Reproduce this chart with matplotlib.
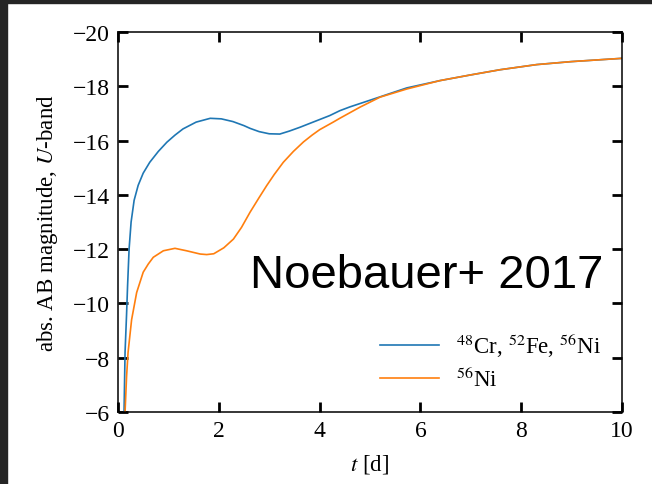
"""U-band light curves for two sets of radioactive isotopes."""

import matplotlib

matplotlib.use("Agg")
import matplotlib.pyplot as plt
from matplotlib.patches import Rectangle

# time since explosion [d] and absolute AB magnitude, U band
t_mixed = [0.12, 0.14, 0.17, 0.19, 0.22, 0.26, 0.32, 0.40, 0.50, 0.63, 0.80,
           0.97, 1.13, 1.29, 1.55, 1.83, 2.05, 2.28, 2.50, 2.62, 2.80, 3.00,
           3.21, 3.40, 3.61, 3.87, 4.20, 4.40, 4.60, 5.07, 5.73, 6.39, 7.00,
           7.58, 8.31, 9.00, 10.0]
mag_mixed = [-6.0, -8.2, -9.6, -10.65, -12.0, -13.0, -13.8, -14.35, -14.8,
             -15.2, -15.6, -15.94, -16.2, -16.43, -16.68, -16.82, -16.80,
             -16.70, -16.55, -16.45, -16.33, -16.25, -16.24, -16.35, -16.49,
             -16.68, -16.92, -17.10, -17.24, -17.53, -17.94, -18.21, -18.42,
             -18.61, -18.80, -18.91, -19.03]

t_ni = [0.14, 0.17, 0.20, 0.27, 0.37, 0.50, 0.60, 0.70, 0.90, 1.13, 1.36,
        1.63, 1.76, 1.90, 2.10, 2.29, 2.45, 2.62, 2.80, 2.95, 3.10, 3.28,
        3.48, 3.68, 3.85, 4.00, 4.27, 4.40, 4.80, 5.20, 5.73, 6.39, 7.00,
        7.58, 8.31, 9.00, 10.0]
mag_ni = [-6.0, -7.3, -8.2, -9.4, -10.4, -11.15, -11.45, -11.7, -11.94,
          -12.03, -11.94, -11.82, -11.80, -11.83, -12.05, -12.37, -12.8,
          -13.36, -13.9, -14.34, -14.75, -15.2, -15.6, -15.95, -16.2, -16.4,
          -16.68, -16.82, -17.23, -17.6, -17.9, -18.21, -18.42, -18.61,
          -18.80, -18.91, -19.03]

label_mixed = r"$^{48}$Cr, $^{52}$Fe, $^{56}$Ni"
label_ni = r"$^{56}$Ni"

x_ticks = [0, 2, 4, 6, 8, 10]
y_ticks = [-20, -18, -16, -14, -12, -10, -8, -6]

plt.rcParams["font.family"] = ["Liberation Serif", "DejaVu Serif"]
plt.rcParams["mathtext.fontset"] = "stix"

fig = plt.figure(figsize=(6.52, 4.85), dpi=100)
fig.patches.append(Rectangle((0, 0), 7 / 652, 1, transform=fig.transFigure,
                             color="#252525", zorder=0))
fig.patches.append(Rectangle((0, 1 - 4 / 485), 1, 4 / 485,
                             transform=fig.transFigure, color="#252525",
                             zorder=0))

ax = fig.add_axes([118 / 652, 1 - 413 / 485, 504 / 652, 380 / 485])
ax.plot(t_mixed, mag_mixed, color="#1f77b4", lw=1.2, label=label_mixed)
ax.plot(t_ni, mag_ni, color="#ff7f0e", lw=1.2, label=label_ni)

ax.set_xlim(0, 10)
ax.set_ylim(-6, -20)
ax.set_xticks(x_ticks)
ax.set_yticks(y_ticks)
ax.tick_params(direction="in", length=7, width=2, top=True, right=True,
               labelsize=17, pad=6)
for sp in ax.spines.values():
    sp.set_linewidth(1.1)

ax.set_xlabel(r"$t$ [d]", fontsize=16.5, labelpad=8)
ax.set_ylabel(r"abs. AB magnitude, $U$-band", fontsize=16.5, labelpad=9)

ax.legend(loc="lower right", frameon=False, fontsize=16.5, handlelength=2.6,
          handletextpad=0.75, labelspacing=0.35, bbox_to_anchor=(1.0, 0.0))

fig.text(250 / 652, 1 - 288 / 485, "Noebauer+ 2017", fontsize=34,
         family="Liberation Sans", ha="left", va="baseline")

fig.savefig("out.png", dpi=100)
